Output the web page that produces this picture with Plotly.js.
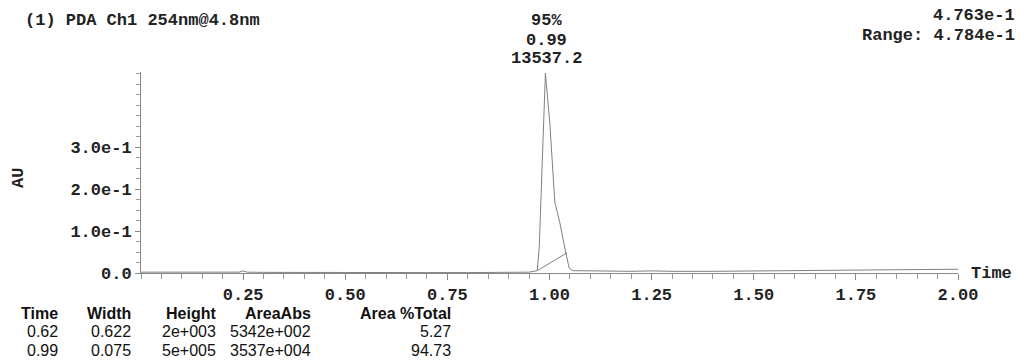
<!DOCTYPE html>
<html>
<head>
<meta charset="utf-8">
<script src="https://cdn.plot.ly/plotly-3.0.1.min.js"></script>
<style>
html,body{margin:0;padding:0;background:#fff;}
#chart{width:1024px;height:361px;}
</style>
</head>
<body>
<div id="chart"></div>
<script>
// Chromatogram trace (time in min, absorbance in AU)
var times = [0.00, 0.05, 0.10, 0.15, 0.20, 0.24, 0.25, 0.26, 0.30, 0.40, 0.50, 0.60, 0.70, 0.80, 0.90, 0.95, 0.970, 0.975, 0.990, 1.001, 1.013, 1.025, 1.040, 1.048, 1.057, 1.10, 1.15, 1.20, 1.25, 1.30, 1.40, 1.50, 1.60, 1.70, 1.80, 1.90, 2.00];
var absorb = [0.002, 0.002, 0.0015, 0.002, 0.0015, 0.002, 0.005, 0.002, 0.0015, 0.001, 0.001, 0.001, 0.001, 0.001, 0.0015, 0.002, 0.0056, 0.064, 0.4763, 0.354, 0.169, 0.121, 0.048, 0.012, 0.0056, 0.005, 0.004, 0.004, 0.005, 0.004, 0.004, 0.005, 0.006, 0.007, 0.008, 0.008, 0.009];
// Integration baseline under the main peak
var baseTimes = [0.970, 1.043];
var baseAbs = [0.0056, 0.048];

// Axis ticks
var xTickVals = [0.25, 0.50, 0.75, 1.00, 1.25, 1.50, 1.75, 2.00];
var xTickText = ["0.25", "0.50", "0.75", "1.00", "1.25", "1.50", "1.75", "2.00"];
var yTickVals = [0, 0.1, 0.2, 0.3];
var yTickText = ["0.0", "1.0e-1", "2.0e-1", "3.0e-1"];

// Header texts
var headerLeft = "(1) PDA Ch1 254nm@4.8nm";
var headerRight1 = "4.763e-1";
var headerRight2 = "Range: 4.784e-1";
var peakLabels = ["95%", "0.99", "13537.2"];

// Peak table
var tableHeaders = ["Time", "Width", "Height", "AreaAbs", "Area %Total"];
var rowTime = ["0.62", "0.99"];
var rowWidth = ["0.622", "0.075"];
var rowHeight = ["2e+003", "5e+005"];
var rowAreaAbs = ["5342e+002", "3537e+004"];
var rowAreaPct = ["5.27", "94.73"];

var MONO = "Liberation Mono, Courier New, monospace";
var SANS = "Liberation Sans, Arial, sans-serif";

var L = 141, R = 958, T = 72, B = 273;
var W = R - L, H = B - T;
function px(x){ return (x - L) / W; }
function py(y){ return (B - y) / H; }

var traces = [
  {x: times, y: absorb, type: "scatter", mode: "lines",
   line: {color: "#808080", width: 1}, hoverinfo: "skip"},
  {x: baseTimes, y: baseAbs, type: "scatter", mode: "lines",
   line: {color: "#808080", width: 1}, hoverinfo: "skip"}
];

var ann = [];
function addText(text, x, y, xanchor, font){
  ann.push({text: text, xref: "paper", yref: "paper", x: px(x), y: py(y),
    xanchor: xanchor, yanchor: "middle", showarrow: false, font: font});
}
var monoFont = {family: MONO, size: 17, color: "#222", weight: "bold"};
addText(headerLeft, 23, 20, "left", monoFont);
addText(headerRight1, 1017, 15, "right", monoFont);
addText(headerRight2, 1017, 35, "right", monoFont);
addText(peakLabels[0], 546, 21, "center", monoFont);
addText(peakLabels[1], 546, 40, "center", monoFont);
addText(peakLabels[2], 546, 59, "center", monoFont);
addText("Time", 969, 273, "left", monoFont);
ann.push({text: "AU", xref: "paper", yref: "paper", x: px(18), y: py(178),
  xanchor: "center", yanchor: "middle", textangle: -90, showarrow: false, font: monoFont});

var colRight = [60, 133, 218, 313, 453];
var hdrFont = {family: SANS, size: 16, color: "#111", weight: "bold"};
var valFont = {family: SANS, size: 16, color: "#111"};
for (var i = 0; i < tableHeaders.length; i++) addText(tableHeaders[i], colRight[i], 313, "right", hdrFont);
var cols = [rowTime, rowWidth, rowHeight, rowAreaAbs, rowAreaPct];
var rowY = [331, 350];
for (var r = 0; r < 2; r++) for (var c = 0; c < cols.length; c++) addText(cols[c][r], colRight[c], rowY[r], "right", valFont);

var layout = {
  width: 1024, height: 361,
  margin: {l: L, r: 1024 - R, t: T, b: 361 - B, pad: 0},
  paper_bgcolor: "#fff", plot_bgcolor: "#fff",
  showlegend: false,
  xaxis: {range: [0, 2], showgrid: false, zeroline: false, showline: true,
    linecolor: "#888", linewidth: 1, ticks: "outside", ticklen: 6, tickcolor: "#888",
    tickvals: xTickVals, ticktext: xTickText,
    tickfont: {family: MONO, size: 17, color: "#222", weight: "bold"},
    minor: {dtick: 0.05, tick0: 0, ticks: "outside", ticklen: 5, tickcolor: "#999", showgrid: false}},
  yaxis: {range: [0, 0.4786], showgrid: false, zeroline: false, showline: true,
    linecolor: "#888", linewidth: 1, ticks: "outside", ticklen: 5, tickcolor: "#888",
    tickvals: yTickVals, ticktext: yTickText,
    tickfont: {family: MONO, size: 17, color: "#222", weight: "bold"},
    minor: {dtick: 0.025, tick0: 0, ticks: "outside", ticklen: 4, tickcolor: "#999", showgrid: false}},
  annotations: ann
};

Plotly.newPlot("chart", traces, layout, {displayModeBar: false, staticPlot: true});
</script>
</body>
</html>
